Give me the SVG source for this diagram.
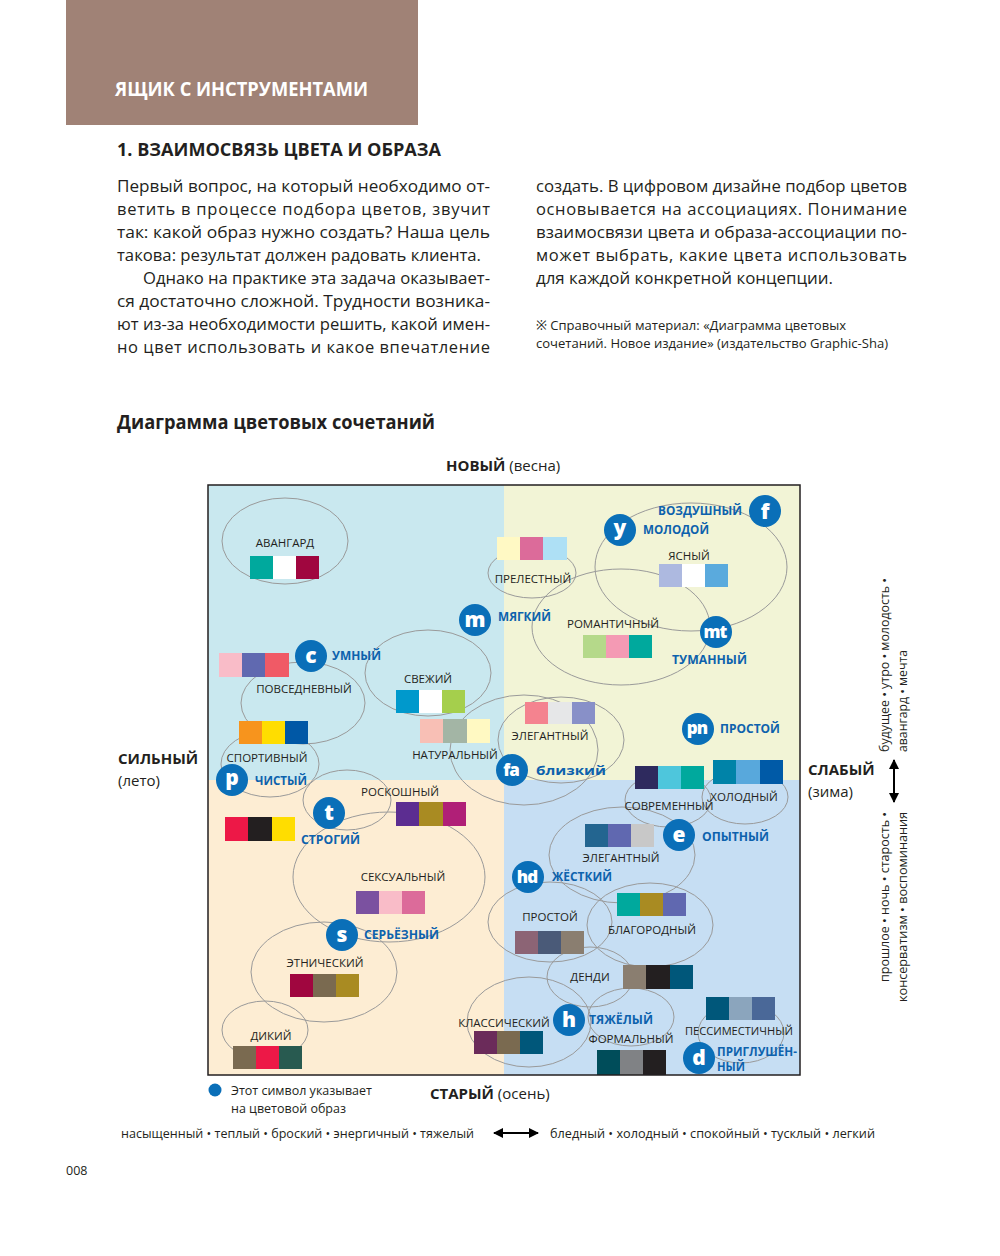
<svg xmlns="http://www.w3.org/2000/svg" width="1000" height="1256" viewBox="0 0 1000 1256">
<style>
.body{font-family:"Open Sans","Noto Sans","Noto Sans CJK SC",sans-serif;font-size:16.5px;fill:#231f20}
.note{font-family:"Open Sans","Noto Sans","Noto Sans CJK SC",sans-serif;font-size:13.5px;fill:#231f20}
.el{fill:none;stroke:#9a9a9a;stroke-width:1}
.lbl{font-family:"Open Sans","Noto Sans",sans-serif;font-size:11.5px;fill:#231f20;text-anchor:middle}
.bl{font-family:"Open Sans","Noto Sans",sans-serif;font-size:12.5px;font-weight:700;fill:#0d62ad}
.ci{fill:#0a6fb8}
.ct{font-family:"Open Sans","Noto Sans",sans-serif;font-size:21px;font-weight:800;fill:#fff;text-anchor:middle}
.ct2{font-family:"Open Sans","Noto Sans",sans-serif;font-size:17px;font-weight:800;fill:#fff;text-anchor:middle;letter-spacing:-1px}
.ax{font-family:"Open Sans","Noto Sans",sans-serif;font-size:15px;fill:#231f20}
.sm{font-family:"Open Sans","Noto Sans",sans-serif;font-size:12.5px;fill:#231f20}
.arr{stroke:#000;stroke-width:2;fill:none}
</style>
<defs>
<marker id="ah" viewBox="0 0 10 10" refX="9" refY="5" markerWidth="5" markerHeight="5" orient="auto-start-reverse" markerUnits="strokeWidth">
<path d="M0,0 L10,5 L0,10 z" fill="#000"/>
</marker>
<clipPath id="frame"><rect x="208" y="485" width="592" height="590"/></clipPath>
</defs>
<rect width="1000" height="1256" fill="#fff"/>
<g id="header">
<rect x="66" y="0" width="352" height="125" fill="#a08276"/>
<text x="115" y="96" font-family="'Open Sans','Noto Sans',sans-serif" font-size="19" font-weight="700" fill="#fff" textLength="253" lengthAdjust="spacingAndGlyphs">ЯЩИК С ИНСТРУМЕНТАМИ</text>
<text x="117" y="156" font-family="'Open Sans','Noto Sans',sans-serif" font-size="18" font-weight="700" fill="#231f20" textLength="324" lengthAdjust="spacingAndGlyphs">1. ВЗАИМОСВЯЗЬ ЦВЕТА И ОБРАЗА</text>
</g>
<g id="bodytext">
<text class="body" x="117" y="192" textLength="373" lengthAdjust="spacingAndGlyphs">Первый вопрос, на который необходимо от-</text>
<text class="body" x="117" y="215" textLength="373" lengthAdjust="spacing">ветить в процессе подбора цветов, звучит</text>
<text class="body" x="117" y="238" textLength="373" lengthAdjust="spacingAndGlyphs">так: какой образ нужно создать? Наша цель</text>
<text class="body" x="117" y="261" textLength="364" lengthAdjust="spacingAndGlyphs">такова: результат должен радовать клиента.</text>
<text class="body" x="143" y="284" textLength="347" lengthAdjust="spacingAndGlyphs">Однако на практике эта задача оказывает-</text>
<text class="body" x="117" y="307" textLength="373" lengthAdjust="spacingAndGlyphs">ся достаточно сложной. Трудности возника-</text>
<text class="body" x="117" y="330" textLength="373" lengthAdjust="spacingAndGlyphs">ют из-за необходимости решить, какой имен-</text>
<text class="body" x="117" y="353" textLength="373" lengthAdjust="spacing">но цвет использовать и какое впечатление</text>
<text class="body" x="536" y="192" textLength="371" lengthAdjust="spacingAndGlyphs">создать. В цифровом дизайне подбор цветов</text>
<text class="body" x="536" y="215" textLength="371" lengthAdjust="spacing">основывается на ассоциациях. Понимание</text>
<text class="body" x="536" y="238" textLength="371" lengthAdjust="spacingAndGlyphs">взаимосвязи цвета и образа-ассоциации по-</text>
<text class="body" x="536" y="261" textLength="371" lengthAdjust="spacing">может выбрать, какие цвета использовать</text>
<text class="body" x="536" y="284" textLength="297" lengthAdjust="spacingAndGlyphs">для каждой конкретной концепции.</text>
<text class="note" x="536" y="330" textLength="310" lengthAdjust="spacingAndGlyphs">※ Справочный материал: «Диаграмма цветовых</text>
<text class="note" x="536" y="348" textLength="352" lengthAdjust="spacingAndGlyphs">сочетаний. Новое издание»  (издательство Graphic-Sha)</text>
<text x="117" y="429" font-family="'Open Sans','Noto Sans',sans-serif" font-size="19" font-weight="700" fill="#231f20" textLength="318" lengthAdjust="spacingAndGlyphs">Диаграмма цветовых сочетаний</text>
</g>
<g id="axes">
<text class="ax" x="446" y="471"><tspan font-weight="700">НОВЫЙ</tspan> (весна)</text>
<text class="ax" x="118" y="764" font-weight="700">СИЛЬНЫЙ</text>
<text class="ax" x="118" y="786">(лето)</text>
<text class="ax" x="808" y="775" font-weight="700">СЛАБЫЙ</text>
<text class="ax" x="808" y="797">(зима)</text>
<text class="ax" x="430" y="1099"><tspan font-weight="700">СТАРЫЙ</tspan> (осень)</text>
<text class="sm" transform="translate(889,752) rotate(-90)" textLength="174" lengthAdjust="spacingAndGlyphs">будущее • утро • молодость •</text>
<text class="sm" transform="translate(907,752) rotate(-90)" textLength="102" lengthAdjust="spacingAndGlyphs">авангард • мечта</text>
<text class="sm" transform="translate(889,982) rotate(-90)" textLength="170" lengthAdjust="spacingAndGlyphs">прошлое • ночь • старость •</text>
<text class="sm" transform="translate(907,1002) rotate(-90)" textLength="190" lengthAdjust="spacingAndGlyphs">консерватизм • воспоминания</text>
<text class="sm" x="121" y="1138" textLength="353" lengthAdjust="spacingAndGlyphs">насыщенный • теплый • броский • энергичный • тяжелый</text>
<text class="sm" x="550" y="1138" textLength="325" lengthAdjust="spacingAndGlyphs">бледный • холодный • спокойный • тусклый • легкий</text>
<circle cx="215" cy="1090" r="6.5" fill="#0a6fb8"/>
<text class="sm" x="231" y="1095">Этот символ указывает</text>
<text class="sm" x="231" y="1113">на цветовой образ</text>
<text class="sm" x="66" y="1175">008</text>
</g>
<g id="chart-bg">
<rect x="208" y="485" width="296" height="295" fill="#c9e8ef"/>
<rect x="504" y="485" width="296" height="295" fill="#f2f4d6"/>
<rect x="208" y="780" width="296" height="295" fill="#fdedd3"/>
<rect x="504" y="780" width="296" height="295" fill="#c6def3"/>
</g>
<g clip-path="url(#frame)">
<g id="ellipses">
<ellipse class="el" cx="285" cy="541" rx="63" ry="43"/>
<ellipse class="el" cx="532" cy="573" rx="44" ry="25"/>
<ellipse class="el" cx="691" cy="567" rx="96" ry="64"/>
<ellipse class="el" cx="621" cy="627" rx="89" ry="58"/>
<ellipse class="el" cx="428" cy="673" rx="63" ry="43"/>
<ellipse class="el" cx="303" cy="703" rx="62" ry="41"/>
<ellipse class="el" cx="270" cy="764" rx="49" ry="33"/>
<ellipse class="el" cx="524" cy="750" rx="74" ry="55"/>
<ellipse class="el" cx="561" cy="740" rx="63" ry="43"/>
<ellipse class="el" cx="347" cy="800" rx="44" ry="30"/>
<ellipse class="el" cx="668" cy="800" rx="43" ry="27"/>
<ellipse class="el" cx="745" cy="797" rx="43" ry="27"/>
<ellipse class="el" cx="622" cy="855" rx="73" ry="48"/>
<ellipse class="el" cx="389" cy="877" rx="96" ry="65"/>
<ellipse class="el" cx="550" cy="922" rx="62" ry="40"/>
<ellipse class="el" cx="650" cy="925" rx="63" ry="42"/>
<ellipse class="el" cx="324" cy="972" rx="73" ry="50"/>
<ellipse class="el" cx="590" cy="977" rx="43" ry="30"/>
<ellipse class="el" cx="265" cy="1030" rx="43" ry="29"/>
<ellipse class="el" cx="529" cy="1022" rx="62" ry="45"/>
<ellipse class="el" cx="631" cy="1017" rx="43" ry="29"/>
<ellipse class="el" cx="741" cy="1033" rx="43" ry="30"/>
</g>
<g id="node-avangard"><text class="lbl" x="285" y="547">АВАНГАРД</text><rect x="250" y="556" width="23" height="23" fill="#00a99d"/><rect x="273" y="556" width="23" height="23" fill="#fff"/><rect x="296" y="556" width="23" height="23" fill="#a0063f"/></g>
<g id="node-prelestny"><rect x="497" y="537" width="23" height="23" fill="#fff9c4"/><rect x="520" y="537" width="23" height="23" fill="#dc6b9a"/><rect x="543" y="537" width="24" height="23" fill="#aee0f5"/><text class="lbl" x="533" y="583">ПРЕЛЕСТНЫЙ</text></g>
<g id="node-yasny"><text class="lbl" x="689" y="560">ЯСНЫЙ</text><rect x="659" y="564" width="23" height="23" fill="#adb9e0"/><rect x="682" y="564" width="23" height="23" fill="#fff"/><rect x="705" y="564" width="23" height="23" fill="#5aaadd"/></g>
<g id="node-romantichny"><text class="lbl" x="613" y="628">РОМАНТИЧНЫЙ</text><rect x="583" y="635" width="23" height="23" fill="#b5d98a"/><rect x="606" y="635" width="23" height="23" fill="#f49ab4"/><rect x="629" y="635" width="23" height="23" fill="#00a99d"/></g>
<g id="node-svezhiy"><text class="lbl" x="428" y="683">СВЕЖИЙ</text><rect x="396" y="690" width="23" height="23" fill="#0099cc"/><rect x="419" y="690" width="23" height="23" fill="#fff"/><rect x="442" y="690" width="23" height="23" fill="#a5cf4c"/></g>
<g id="node-povsednevny"><rect x="219" y="653" width="23" height="24" fill="#f9bcc8"/><rect x="242" y="653" width="23" height="24" fill="#6069b0"/><rect x="265" y="653" width="24" height="24" fill="#f05a66"/><text class="lbl" x="304" y="693">ПОВСЕДНЕВНЫЙ</text></g>
<g id="node-sportivny"><rect x="239" y="721" width="23" height="23" fill="#f7941d"/><rect x="262" y="721" width="23" height="23" fill="#ffdd00"/><rect x="285" y="721" width="23" height="23" fill="#0058a6"/><text class="lbl" x="267" y="762">СПОРТИВНЫЙ</text></g>
<g id="node-naturalny"><rect x="420" y="719" width="23" height="24" fill="#f8bfb5"/><rect x="443" y="719" width="24" height="24" fill="#a3b5a5"/><rect x="467" y="719" width="23" height="24" fill="#fff9c2"/><text class="lbl" x="455" y="759">НАТУРАЛЬНЫЙ</text></g>
<g id="node-elegant-spring"><rect x="525" y="702" width="23" height="22" fill="#f4838f"/><rect x="548" y="702" width="24" height="22" fill="#e6e7e8"/><rect x="572" y="702" width="23" height="22" fill="#8890c8"/><text class="lbl" x="550" y="740">ЭЛЕГАНТНЫЙ</text></g>
<g id="node-roskoshny"><text class="lbl" x="400" y="796">РОСКОШНЫЙ</text><rect x="396" y="802" width="23" height="24" fill="#5c2d91"/><rect x="419" y="802" width="24" height="24" fill="#a98b22"/><rect x="443" y="802" width="23" height="24" fill="#b01f77"/></g>
<g id="node-strogy-colors"><rect x="225" y="817" width="23" height="24" fill="#ed1847"/><rect x="248" y="817" width="24" height="24" fill="#231f20"/><rect x="272" y="817" width="23" height="24" fill="#ffdd00"/></g>
<g id="node-sovremenny"><rect x="635" y="766" width="23" height="23" fill="#2e2a5e"/><rect x="658" y="766" width="23" height="23" fill="#4ec6dc"/><rect x="681" y="766" width="23" height="23" fill="#00a99d"/><text class="lbl" x="669" y="810">СОВРЕМЕННЫЙ</text></g>
<g id="node-holodny"><rect x="713" y="760" width="23" height="24" fill="#0083a8"/><rect x="736" y="760" width="24" height="24" fill="#58a8dc"/><rect x="760" y="760" width="23" height="24" fill="#005aa7"/><text class="lbl" x="744" y="801">ХОЛОДНЫЙ</text></g>
<g id="node-elegant-autumn"><rect x="585" y="824" width="23" height="23" fill="#236590"/><rect x="608" y="824" width="23" height="23" fill="#6068b0"/><rect x="631" y="824" width="23" height="23" fill="#c8c8c8"/><text class="lbl" x="621" y="862">ЭЛЕГАНТНЫЙ</text></g>
<g id="node-seksualny"><text class="lbl" x="403" y="881">СЕКСУАЛЬНЫЙ</text><rect x="356" y="891" width="23" height="23" fill="#7b51a0"/><rect x="379" y="891" width="23" height="23" fill="#f9bcc8"/><rect x="402" y="891" width="23" height="23" fill="#dc6b9a"/></g>
<g id="node-prostoy-autumn"><text class="lbl" x="550" y="921">ПРОСТОЙ</text><rect x="515" y="931" width="23" height="23" fill="#8c6475"/><rect x="538" y="931" width="23" height="23" fill="#4a5a78"/><rect x="561" y="931" width="23" height="23" fill="#8a7e70"/></g>
<g id="node-blagorodny"><rect x="617" y="893" width="23" height="23" fill="#00a99d"/><rect x="640" y="893" width="23" height="23" fill="#a98b22"/><rect x="663" y="893" width="23" height="23" fill="#6068b0"/><text class="lbl" x="652" y="934">БЛАГОРОДНЫЙ</text></g>
<g id="node-etnichesky"><text class="lbl" x="325" y="967">ЭТНИЧЕСКИЙ</text><rect x="290" y="974" width="23" height="23" fill="#a0063f"/><rect x="313" y="974" width="23" height="23" fill="#7a6a50"/><rect x="336" y="974" width="23" height="23" fill="#a98b22"/></g>
<g id="node-dendi"><text class="lbl" x="590" y="981">ДЕНДИ</text><rect x="623" y="965" width="23" height="24" fill="#8a7e70"/><rect x="646" y="965" width="24" height="24" fill="#231f20"/><rect x="670" y="965" width="23" height="24" fill="#00577a"/></g>
<g id="node-dikiy"><text class="lbl" x="271" y="1040">ДИКИЙ</text><rect x="233" y="1046" width="23" height="23" fill="#7a6a50"/><rect x="256" y="1046" width="23" height="23" fill="#ed1847"/><rect x="279" y="1046" width="23" height="23" fill="#285a50"/></g>
<g id="node-klassichesky"><text class="lbl" x="504" y="1027">КЛАССИЧЕСКИЙ</text><rect x="474" y="1031" width="23" height="23" fill="#6b2b5a"/><rect x="497" y="1031" width="23" height="23" fill="#7a6a50"/><rect x="520" y="1031" width="23" height="23" fill="#00577a"/></g>
<g id="node-formalny"><text class="lbl" x="631" y="1043">ФОРМАЛЬНЫЙ</text><rect x="597" y="1050" width="23" height="25" fill="#004d5a"/><rect x="620" y="1050" width="23" height="25" fill="#808285"/><rect x="643" y="1050" width="23" height="25" fill="#231f20"/></g>
<g id="node-pessimistichny"><rect x="706" y="997" width="23" height="23" fill="#00577a"/><rect x="729" y="997" width="23" height="23" fill="#8ba5bd"/><rect x="752" y="997" width="23" height="23" fill="#4a6898"/><text class="lbl" x="739" y="1035" textLength="108" lengthAdjust="spacingAndGlyphs">ПЕССИМЕСТИЧНЫЙ</text></g>
<g id="img-m"><circle class="ci" cx="475" cy="620" r="16"/><text class="ct" x="475" y="627">m</text><text class="bl" x="498" y="621" textLength="53" lengthAdjust="spacingAndGlyphs">МЯГКИЙ</text></g>
<g id="img-c"><circle class="ci" cx="311" cy="656" r="16"/><text class="ct" x="311" y="663">c</text><text class="bl" x="332" y="660" textLength="49" lengthAdjust="spacingAndGlyphs">УМНЫЙ</text></g>
<g id="img-f"><circle class="ci" cx="765" cy="511" r="16"/><text class="ct" x="765" y="519">f</text><text class="bl" x="658" y="515" textLength="84" lengthAdjust="spacingAndGlyphs">ВОЗДУШНЫЙ</text></g>
<g id="img-y"><circle class="ci" cx="620" cy="530" r="16"/><text class="ct" x="620" y="535">y</text><text class="bl" x="643" y="534" textLength="66" lengthAdjust="spacingAndGlyphs">МОЛОДОЙ</text></g>
<g id="img-mt"><circle class="ci" cx="716" cy="632" r="16"/><text class="ct2" x="715" y="638">mt</text><text class="bl" x="672" y="664" textLength="75" lengthAdjust="spacingAndGlyphs">ТУМАННЫЙ</text></g>
<g id="img-pn"><circle class="ci" cx="698" cy="729" r="16"/><text class="ct2" x="697" y="734">pn</text><text class="bl" x="720" y="733" textLength="60" lengthAdjust="spacingAndGlyphs">ПРОСТОЙ</text></g>
<g id="img-fa"><circle class="ci" cx="512" cy="770" r="16"/><text class="ct2" x="511" y="776">fa</text><text class="bl" x="536" y="775" font-size="17" textLength="70" lengthAdjust="spacingAndGlyphs">близкий</text></g>
<g id="img-p"><circle class="ci" cx="232" cy="780" r="16"/><text class="ct" x="232" y="785">p</text><text class="bl" x="255" y="785" textLength="52" lengthAdjust="spacingAndGlyphs">ЧИСТЫЙ</text></g>
<g id="img-t"><circle class="ci" cx="329" cy="813" r="16"/><text class="ct" x="329" y="820">t</text><text class="bl" x="301" y="844" textLength="59" lengthAdjust="spacingAndGlyphs">СТРОГИЙ</text></g>
<g id="img-e"><circle class="ci" cx="679" cy="835" r="16"/><text class="ct" x="679" y="842">e</text><text class="bl" x="702" y="841" textLength="67" lengthAdjust="spacingAndGlyphs">ОПЫТНЫЙ</text></g>
<g id="img-hd"><circle class="ci" cx="528" cy="877" r="16"/><text class="ct2" x="527" y="883">hd</text><text class="bl" x="552" y="881" textLength="60" lengthAdjust="spacingAndGlyphs">ЖЁСТКИЙ</text></g>
<g id="img-s"><circle class="ci" cx="342" cy="935" r="16"/><text class="ct" x="342" y="942">s</text><text class="bl" x="364" y="939" textLength="75" lengthAdjust="spacingAndGlyphs">СЕРЬЁЗНЫЙ</text></g>
<g id="img-h"><circle class="ci" cx="569" cy="1020" r="16"/><text class="ct" x="569" y="1027">h</text><text class="bl" x="589" y="1024" textLength="64" lengthAdjust="spacingAndGlyphs">ТЯЖЁЛЫЙ</text></g>
<g id="img-d"><circle class="ci" cx="699" cy="1058" r="16"/><text class="ct" x="699" y="1065">d</text><text class="bl" x="717" y="1056" font-size="11.5" textLength="80" lengthAdjust="spacingAndGlyphs">ПРИГЛУШЁН-</text><text class="bl" x="717" y="1071" font-size="11.5" textLength="28" lengthAdjust="spacingAndGlyphs">НЫЙ</text></g>
</g>
<rect x="208" y="485" width="592" height="590" fill="none" stroke="#231f20" stroke-width="1.5"/>
<g id="connectors">
<line class="arr" x1="894" y1="760" x2="894" y2="802" marker-start="url(#ah)" marker-end="url(#ah)"/>
<line class="arr" x1="494" y1="1133" x2="538" y2="1133" marker-start="url(#ah)" marker-end="url(#ah)"/>
</g>
</svg>
